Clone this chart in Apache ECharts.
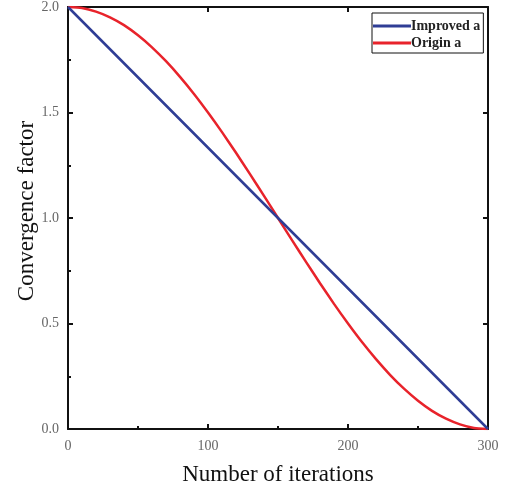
<!DOCTYPE html>
<html>
<head>
<meta charset="utf-8">
<script src="https://cdn.jsdelivr.net/npm/echarts@6/dist/echarts.min.js"></script>
<style>
  html, body { margin: 0; padding: 0; background: #fff; }
  #chart { width: 505px; height: 492px; }
</style>
</head>
<body>
<div id="chart"></div>
<script>
// Iteration counts at which the convergence factor is sampled
const iterations = [0, 10, 20, 30, 40, 50, 60, 70, 80, 90, 100, 110, 120, 130, 140, 150,
  160, 170, 180, 190, 200, 210, 220, 230, 240, 250, 260, 270, 280, 290, 300];

// Original (cosine-shaped) convergence factor
const originA = [2.000, 1.995, 1.978, 1.951, 1.914, 1.866, 1.809, 1.743, 1.669, 1.588, 1.500,
  1.407, 1.309, 1.208, 1.105, 1.000, 0.895, 0.792, 0.691, 0.593, 0.500, 0.412, 0.331, 0.257,
  0.191, 0.134, 0.086, 0.049, 0.022, 0.005, 0.000];

// Improved (linear) convergence factor
const improvedIter = [0, 150, 300];
const improvedA = [2.0, 1.0, 0.0];

const seriesNames = ['Improved a', 'Origin a'];
const xTitle = 'Number of iterations';
const yTitle = 'Convergence factor';

const serif = '"Liberation Serif", "DejaVu Serif", serif';
const axisLine = { show: true, onZero: false, lineStyle: { color: '#111', width: 2 } };
const majorTick = { inside: true, length: 5, lineStyle: { color: '#111', width: 2 } };
const minorTick = { show: true, splitNumber: 2, length: 3, lineStyle: { color: '#111', width: 2 } };

const chart = echarts.init(document.getElementById('chart'), null, { renderer: 'canvas' });

chart.setOption({
  animation: false,
  backgroundColor: '#fff',
  grid: { left: 68, right: 17, top: 7, bottom: 63 },
  legend: {
    orient: 'vertical',
    left: 372,
    top: 13,
    padding: [6, 3, 3, 1],
    itemGap: 3,
    itemWidth: 38,
    itemHeight: 3,
    icon: 'rect',
    borderColor: '#111',
    borderWidth: 1,
    borderRadius: 0,
    backgroundColor: '#fff',
    textStyle: { fontFamily: serif, fontSize: 14, fontWeight: 'bold', color: '#222', padding: [0, 0, 0, -5] },
    data: seriesNames
  },
  xAxis: [
    {
      type: 'value', position: 'bottom', min: 0, max: 300, interval: 100,
      axisLine, axisTick: majorTick, minorTick,
      splitLine: { show: false },
      axisLabel: { color: '#666', fontFamily: serif, fontSize: 14, margin: 10 },
      name: xTitle, nameLocation: 'middle', nameGap: 34,
      nameTextStyle: { fontFamily: serif, fontSize: 23, color: '#111' }
    },
    {
      type: 'value', position: 'top', min: 0, max: 300, interval: 100,
      axisLine, axisTick: majorTick,
      splitLine: { show: false },
      axisLabel: { show: false }
    }
  ],
  yAxis: [
    {
      type: 'value', position: 'left', min: 0, max: 2, interval: 0.5,
      axisLine, axisTick: majorTick, minorTick,
      splitLine: { show: false },
      axisLabel: { color: '#666', fontFamily: serif, fontSize: 14, margin: 9,
        formatter: v => v.toFixed(1) },
      name: yTitle, nameLocation: 'middle', nameGap: 30, nameMoveOverlap: false,
      nameTextStyle: { fontFamily: serif, fontSize: 23, color: '#111', padding: [0, 0, 0, 14] }
    },
    {
      type: 'value', position: 'right', min: 0, max: 2, interval: 0.5,
      axisLine, axisTick: majorTick,
      splitLine: { show: false },
      axisLabel: { show: false }
    }
  ],
  series: [
    {
      name: seriesNames[0],
      type: 'line',
      symbol: 'none',
      color: '#2f3d95',
      lineStyle: { width: 2.5, color: '#2f3d95' },
      data: improvedIter.map((x, i) => [x, improvedA[i]]),
      z: 3
    },
    {
      name: seriesNames[1],
      type: 'line',
      symbol: 'none',
      smooth: 0.2,
      color: '#e8232b',
      lineStyle: { width: 2.5, color: '#e8232b' },
      data: iterations.map((x, i) => [x, originA[i]]),
      z: 2
    }
  ]
});
</script>
</body>
</html>
